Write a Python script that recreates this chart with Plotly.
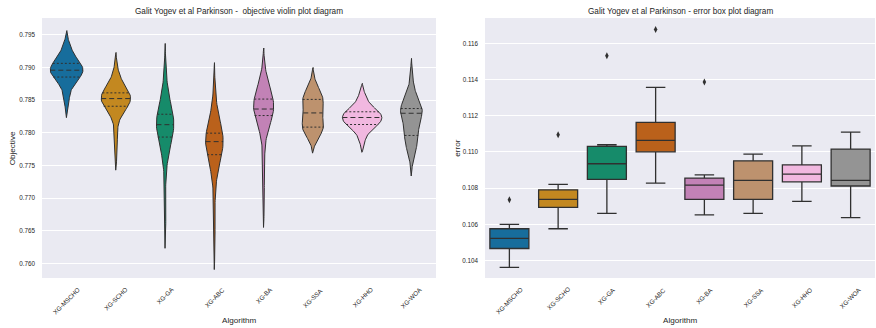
import numpy as np
import plotly.graph_objects as go

algorithms = ["XG-MSCHO", "XG-SCHO", "XG-GA", "XG-ABC", "XG-BA", "XG-SSA", "XG-HHO", "XG-WOA"]

# objective values (violin plot)
obj_mscho = [0.7846, 0.7862, 0.7874, 0.7880, 0.7884, 0.7886, 0.7889, 0.7892, 0.7894, 0.7895,
             0.7897, 0.7899, 0.7901, 0.7903, 0.7906, 0.7908, 0.7912, 0.7918, 0.7926, 0.7934]
obj_scho = [0.7772, 0.7800, 0.7828, 0.7836, 0.7840, 0.7841, 0.7845, 0.7848, 0.7850, 0.7852,
            0.7853, 0.7855, 0.7857, 0.7859, 0.7861, 0.7862, 0.7866, 0.7872, 0.7880, 0.7894]
obj_ga = [0.7672, 0.7745, 0.7772, 0.7785, 0.7792, 0.7794, 0.7800, 0.7806, 0.7810, 0.7812,
          0.7813, 0.7816, 0.7820, 0.7823, 0.7828, 0.7830, 0.7838, 0.7848, 0.7860, 0.7888]
obj_abc = [0.7640, 0.7712, 0.7745, 0.7758, 0.7765, 0.7767, 0.7772, 0.7778, 0.7783, 0.7785,
           0.7788, 0.7791, 0.7794, 0.7797, 0.7799, 0.7801, 0.7808, 0.7818, 0.7830, 0.7858]
obj_ba = [0.7700, 0.7760, 0.7800, 0.7815, 0.7825, 0.7827, 0.7830, 0.7833, 0.7835, 0.7836,
          0.7837, 0.7840, 0.7845, 0.7849, 0.7851, 0.7854, 0.7860, 0.7866, 0.7874, 0.7885]
obj_ssa = [0.7795, 0.7800, 0.7805, 0.7807, 0.7808, 0.7809, 0.7812, 0.7818, 0.7825, 0.7829,
           0.7832, 0.7838, 0.7845, 0.7849, 0.7851, 0.7852, 0.7854, 0.7858, 0.7865, 0.7874]
obj_hho = [0.7788, 0.7800, 0.7808, 0.7811, 0.7812, 0.7813, 0.7816, 0.7819, 0.7821, 0.7823,
           0.7824, 0.7826, 0.7828, 0.7830, 0.7832, 0.7833, 0.7836, 0.7841, 0.7848, 0.7858]
obj_woa = [0.7766, 0.7780, 0.7786, 0.7790, 0.7793, 0.7797, 0.7805, 0.7815, 0.7824, 0.7828,
           0.7832, 0.7834, 0.7835, 0.7836, 0.7837, 0.7838, 0.7842, 0.7848, 0.7860, 0.7882]
objective = [obj_mscho, obj_scho, obj_ga, obj_abc, obj_ba, obj_ssa, obj_hho, obj_woa]

# error box plot statistics
err_low = [0.10363, 0.10576, 0.10661, 0.10828, 0.10653, 0.10661, 0.10727, 0.10637]
err_q1 = [0.10467, 0.10694, 0.10849, 0.11001, 0.10738, 0.10738, 0.10835, 0.10812]
err_median = [0.10523, 0.10738, 0.10935, 0.11064, 0.10817, 0.10843, 0.10878, 0.10843]
err_q3 = [0.10576, 0.10791, 0.11031, 0.11164, 0.10856, 0.10951, 0.10929, 0.11016]
err_high = [0.10600, 0.10821, 0.11040, 0.11357, 0.10874, 0.10988, 0.11034, 0.11110]
outlier_algo = ["XG-MSCHO", "XG-SCHO", "XG-GA", "XG-ABC", "XG-BA"]
outlier_err = [0.10736, 0.11095, 0.11531, 0.11677, 0.11386]

obj_ticks = [0.760, 0.765, 0.770, 0.775, 0.780, 0.785, 0.790, 0.795]
err_ticks = [0.104, 0.106, 0.108, 0.110, 0.112, 0.114, 0.116]

colors = ["#176d9c", "#c38820", "#168b6a", "#ba611b", "#c282b6", "#bd926e", "#f1b8e0", "#949494"]
gray = "#303030"
font_family = "Liberation Sans, Arial, sans-serif"
text_color = "#262626"

W, H = 876, 328
left_dom = [42 / W, 436 / W]
right_dom = [485 / W, 875 / W]
y_dom = [50 / H, 310 / H]

fig = go.Figure()


# --- Gaussian KDE (Scott bandwidth, cut = 2, equal-area scaling) ---
def bandwidth(d):
    d = np.asarray(d)
    return np.std(d, ddof=1) * len(d) ** (-0.2)


def kde(d, bw, t):
    d = np.asarray(d)
    u = (np.asarray(t, dtype=float)[..., None] - d) / bw
    return np.exp(-0.5 * u ** 2).sum(-1) / (len(d) * bw * np.sqrt(2 * np.pi))


bws = [bandwidth(d) for d in objective]
supports = [np.linspace(min(d) - 2 * bw, max(d) + 2 * bw, 100) for d, bw in zip(objective, bws)]
densities = [kde(d, bw, s) for d, bw, s in zip(objective, bws, supports)]
gmax = max(dens.max() for dens in densities)

half = 0.4
for i, (d, bw, s, dens) in enumerate(zip(objective, bws, supports, densities)):
    w = dens / gmax * half
    xs = np.concatenate([i - w, (i + w)[::-1], [i - w[0]]])
    ys = np.concatenate([s, s[::-1], [s[0]]])
    fig.add_trace(go.Scatter(
        x=xs, y=ys, mode="lines", fill="toself", fillcolor=colors[i],
        line=dict(color=gray, width=1), showlegend=False, hoverinfo="skip",
        xaxis="x", yaxis="y"))
    for p, dash in [(25, "2px,2px"), (50, "5px,3px"), (75, "2px,2px")]:
        val = float(np.percentile(d, p))
        k = int(np.abs(s - val).argmin())
        hw = float(dens[k]) / gmax * half
        fig.add_trace(go.Scatter(
            x=[i - hw, i + hw], y=[val, val], mode="lines",
            line=dict(color=gray, width=1, dash=dash),
            showlegend=False, hoverinfo="skip", xaxis="x", yaxis="y"))

for i in range(len(algorithms)):
    fig.add_trace(go.Box(
        x=[i], q1=[err_q1[i]], median=[err_median[i]], q3=[err_q3[i]],
        lowerfence=[err_low[i]], upperfence=[err_high[i]],
        width=0.8, whiskerwidth=0.5, boxpoints=False, fillcolor=colors[i],
        line=dict(color=gray, width=1.3), showlegend=False, hoverinfo="skip",
        xaxis="x2", yaxis="y2"))

fig.add_trace(go.Scatter(
    x=[algorithms.index(a) for a in outlier_algo], y=outlier_err, mode="markers",
    marker=dict(symbol="diamond-tall", size=5, color=gray),
    showlegend=False, hoverinfo="skip", xaxis="x2", yaxis="y2"))

axis_common = dict(showline=False, zeroline=False, ticks="", mirror=False)
fig.update_layout(
    width=W, height=H, margin=dict(l=0, r=0, t=0, b=0),
    paper_bgcolor="white", plot_bgcolor="#EAEAF2", showlegend=False,
    boxmode="overlay", boxgap=0,
    font=dict(family=font_family, color=text_color),
    xaxis=dict(domain=left_dom, range=[-0.5, 7.5], showgrid=False, showticklabels=False,
               anchor="y", **axis_common),
    yaxis=dict(domain=y_dom, range=[0.75775, 0.7976], tickvals=obj_ticks, tickformat=".3f",
               gridcolor="white", gridwidth=1, anchor="x", ticklabelstandoff=6,
               tickfont=dict(size=6.3, color=text_color), **axis_common),
    xaxis2=dict(domain=right_dom, range=[-0.5, 7.5], showgrid=False, showticklabels=False,
                anchor="y2", **axis_common),
    yaxis2=dict(domain=y_dom, range=[0.10304, 0.1174], tickvals=err_ticks, tickformat=".3f",
                gridcolor="white", gridwidth=1, anchor="x2", ticklabelstandoff=6,
                tickfont=dict(size=6.3, color=text_color), **axis_common),
)

ann = []
for xr in ["x", "x2"]:
    for i, a in enumerate(algorithms):
        ann.append(dict(x=i, y=(H - 283) / H, xref=xr, yref="paper", text=a, showarrow=False,
                        textangle=-45, xanchor="center", yanchor="top",
                        font=dict(size=6.3, color=text_color)))
cx_l = (left_dom[0] + left_dom[1]) / 2
cx_r = (right_dom[0] + right_dom[1]) / 2
ann += [
    dict(x=cx_l, y=(H - 11.7) / H, xref="paper", yref="paper", showarrow=False,
         text="Galit Yogev et al Parkinson -  objective violin plot diagram",
         xanchor="center", yanchor="middle", font=dict(size=8.2, color=text_color)),
    dict(x=cx_r, y=(H - 11.7) / H, xref="paper", yref="paper", showarrow=False,
         text="Galit Yogev et al Parkinson - error box plot diagram",
         xanchor="center", yanchor="middle", font=dict(size=8.2, color=text_color)),
    dict(x=cx_l, y=(H - 320) / H, xref="paper", yref="paper", showarrow=False,
         text="Algorithm", xanchor="center", yanchor="middle",
         font=dict(size=8.1, color=text_color)),
    dict(x=cx_r, y=(H - 320) / H, xref="paper", yref="paper", showarrow=False,
         text="Algorithm", xanchor="center", yanchor="middle",
         font=dict(size=8.1, color=text_color)),
    dict(x=12.3 / W, y=(H - 148) / H, xref="paper", yref="paper", showarrow=False,
         text="Objective", textangle=-90, xanchor="center", yanchor="middle",
         font=dict(size=8.1, color=text_color)),
    dict(x=456.7 / W, y=(H - 148) / H, xref="paper", yref="paper", showarrow=False,
         text="error", textangle=-90, xanchor="center", yanchor="middle",
         font=dict(size=8.1, color=text_color)),
]
fig.update_layout(annotations=ann)

fig.write_html("out.html", config={"displayModeBar": False},
               post_script="document.body.style.margin='0';document.body.style.padding='0';document.body.style.overflow='hidden';")
